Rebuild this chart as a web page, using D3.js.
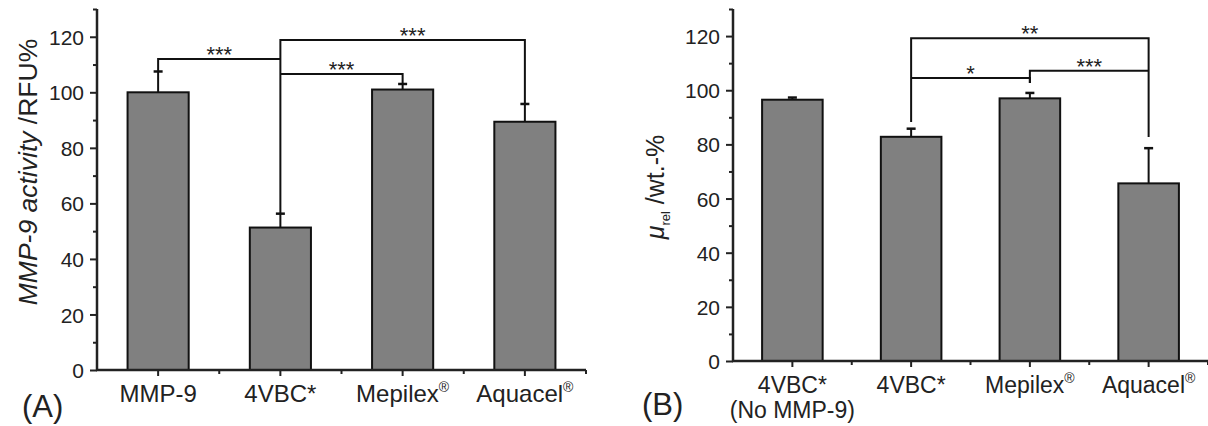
<!DOCTYPE html>
<html><head><meta charset="utf-8">
<script src="https://cdn.jsdelivr.net/npm/d3@7"></script>
<style>
body{margin:0;background:#fff;}
svg text{font-family:"Liberation Sans",Arial,sans-serif;fill:#222;}
</style>
</head><body>
<svg id="chart" width="1208" height="426"></svg>
<script>
// ---- data ----
const catsA = ["MMP-9", "4VBC*", "Mepilex", "Aquacel"];
const regA  = [false, false, true, true];
const valsA = [100, 51.3, 101, 89.4];
const errA  = [7.5, 5, 2, 6.4];

const catsB  = ["4VBC*", "4VBC*", "Mepilex", "Aquacel"];
const catsB2 = ["(No MMP-9)", "", "", ""];
const regB   = [false, false, true, true];
const valsB  = [96.5, 82.8, 97, 65.6];
const errB   = [0.8, 3, 2, 13];

const yTicks = [0, 20, 40, 60, 80, 100, 120];
const yMinor = [10, 30, 50, 70, 90, 110, 130];

// significance brackets: from/to category index, level value, drop ends, label
const sigA = [
  {from:0, to:1, level:112,   fromEnd:107.5, toEnd:112,   label:"***", dx:0},
  {from:1, to:3, level:118.8, fromEnd:56.3,  toEnd:95.4,  label:"***", dx:10},
  {from:1, to:2, level:106.6, fromEnd:106.6, toEnd:102.8, label:"***", dx:0}
];
const sigB = [
  {from:1, to:3, level:119.2, fromEnd:88.3,  toEnd:82.7,  label:"**",  dx:0},
  {from:1, to:2, level:104.5, fromEnd:104.5, toEnd:102.7, label:"*",   dx:0},
  {from:2, to:3, level:107.2, fromEnd:102.7, toEnd:107.2, label:"***", dx:0}
];

const svg = d3.select("#chart");

function panel(o){
  const g = svg.append("g");
  const x = d3.scaleBand().domain(d3.range(o.cats.length)).range([o.x0, o.x1]).paddingInner(o.pad).paddingOuter(o.pad/2);
  const xc = i => x(i) + x.bandwidth()/2;
  const step = x.step();
  const y = d3.scaleLinear().domain([0,130]).range([o.y0, o.y1]);

  // bars
  g.selectAll("rect.bar").data(o.vals).join("rect")
    .attr("x",(d,i)=>x(i)).attr("y",d=>y(d))
    .attr("width",x.bandwidth()).attr("height",d=>y(0)-y(d))
    .attr("fill","#808080").attr("stroke","#111").attr("stroke-width",2);

  // error bars
  o.vals.forEach((v,i)=>{
    const cx = xc(i);
    g.append("line").attr("x1",cx).attr("x2",cx).attr("y1",y(v)).attr("y2",y(v+o.err[i]))
      .attr("stroke","#111").attr("stroke-width",2);
    g.append("line").attr("x1",cx-4.5).attr("x2",cx+4.5).attr("y1",y(v+o.err[i])).attr("y2",y(v+o.err[i]))
      .attr("stroke","#111").attr("stroke-width",2.5);
  });

  // y axis
  const ya = g.append("g").attr("transform",`translate(${o.x0},0)`)
    .call(d3.axisLeft(y).tickValues(yTicks).tickSize(7).tickPadding(6).tickSizeOuter(0));
  ya.select(".domain").remove();
  ya.selectAll(".tick line").attr("stroke","#222").attr("stroke-width",2);
  ya.selectAll(".tick text").style("font-size","21px").attr("dy","0.36em");
  g.append("g").attr("transform",`translate(${o.x0},0)`)
    .call(d3.axisLeft(y).tickValues(yMinor).tickSize(4).tickFormat(""))
    .call(s=>{s.select(".domain").remove(); s.selectAll(".tick line").attr("stroke","#222").attr("stroke-width",2);});
  g.append("line").attr("x1",o.x0).attr("x2",o.x0).attr("y1",y(130)).attr("y2",y(0)+1)
    .attr("stroke","#222").attr("stroke-width",2.5);

  // x axis
  const xa = g.append("g").attr("transform",`translate(0,${o.y0})`)
    .call(d3.axisBottom(x).tickSize(6).tickFormat("").tickSizeOuter(0));
  xa.select(".domain").remove();
  xa.selectAll(".tick line").attr("stroke","#222").attr("stroke-width",2);
  d3.range(o.cats.length).forEach(i=>{
    g.append("line").attr("x1",x(i)+x.bandwidth()/2+step/2).attr("x2",x(i)+x.bandwidth()/2+step/2)
      .attr("y1",o.y0).attr("y2",o.y0+4).attr("stroke","#222").attr("stroke-width",2);
  });
  g.append("line").attr("x1",o.x0-1).attr("x2",o.x1).attr("y1",o.y0).attr("y2",o.y0)
    .attr("stroke","#222").attr("stroke-width",2.5);

  // category labels
  o.cats.forEach((c,i)=>{
    const t = g.append("text").attr("x",xc(i)).attr("y",o.y0+32)
      .attr("text-anchor","middle").style("font-size",o.catSize+"px");
    t.append("tspan").text(c);
    if(o.reg[i]) t.append("tspan").text("®").style("font-size","14px").attr("dy","-10");
    if(o.cats2 && o.cats2[i]){
      g.append("text").attr("x",xc(i)).attr("y",o.y0+57).attr("text-anchor","middle")
        .style("font-size",o.catSize+"px").text(o.cats2[i]);
    }
  });

  // brackets
  o.sig.forEach(s=>{
    const xa_ = xc(s.from), xb = xc(s.to);
    g.append("path")
      .attr("d",`M${xa_},${y(s.fromEnd)}V${y(s.level)}H${xb}V${y(s.toEnd)}`)
      .attr("fill","none").attr("stroke","#111").attr("stroke-width",2);
    g.append("text").attr("x",(xa_+xb)/2+s.dx).attr("y",y(s.level)+3)
      .attr("text-anchor","middle").style("font-size","22px").text(s.label);
  });

  // panel label
  svg.append("text").attr("x",o.lx).attr("y",o.ly).style("font-size","31px").text(o.plabel);
  return {x,y};
}

panel({cats:catsA, reg:regA, vals:valsA, err:errA, x0:97, x1:586, y0:370, y1:9, pad:0.5,
       catSize:24, sig:sigA, plabel:"(A)", lx:22, ly:417});
panel({cats:catsB, cats2:catsB2, reg:regB, vals:valsB, err:errB, x0:733, x1:1208, y0:361, y1:9, pad:0.49,
       catSize:23, sig:sigB, plabel:"(B)", lx:642, ly:415});

// y axis titles
const tA = svg.append("text").attr("transform","translate(37,172) rotate(-90)")
  .attr("text-anchor","middle").style("font-size","26.5px");
tA.append("tspan").text("MMP-9 activity").style("font-style","italic");
tA.append("tspan").text(" /RFU%");

const tB = svg.append("text").attr("transform","translate(664,187) rotate(-90)")
  .attr("text-anchor","middle").style("font-size","25px");
tB.append("tspan").text("μ").style("font-style","italic");
tB.append("tspan").text("rel").style("font-size","13px").attr("dy","6");
tB.append("tspan").text(" /wt.-%").attr("dy","-6");
</script>
</body></html>
